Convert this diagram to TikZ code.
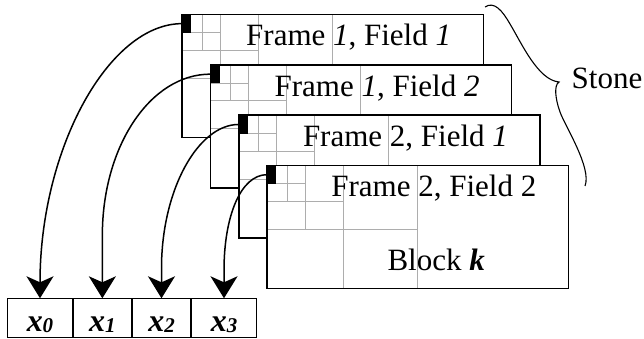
\documentclass[tikz,border=0pt]{standalone}
\usepackage{fontspec}
\setmainfont{Liberation Serif}
\usetikzlibrary{arrows.meta,calc}
% One field of the stone: white frame, quadtree grid, leading block, caption
\newcommand\stoneframe[5]{%
  \begin{scope}[shift={(#2,#3)}]
    \fill[white] (0,0) rectangle (301.3,123);
    \draw[gridline] (20,0) -- (20,36);
    \draw[gridline] (38,0) -- (38,64);
    \draw[gridline] (76,0) -- (76,123);
    \draw[gridline] (150,0) -- (150,123);
    \draw[gridline] (0,18.3) -- (38,18.3);
    \draw[gridline] (0,36) -- (76,36);
    \draw[gridline] (0,64) -- (150,64);
    \node[blk] (#1) at (0,0) {};
    \draw[framebox] (0,0) rectangle (301.3,123);
    \node[ftext] (#4) at (64,31.4) {#5};
  \end{scope}}
\newcommand\xlab[1]{{\bfseries\itshape x}\raisebox{-1.5pt}{\fontsize{21}{21}\selectfont\bfseries\itshape #1}}
\begin{document}
\begin{tikzpicture}[x=1pt,y=-1pt,
  framebox/.style={draw=black,line width=1.5pt},
  gridline/.style={draw=black!32,line width=0.9pt},
  blk/.style={fill=black,draw=none,minimum width=9pt,minimum height=18.3pt,
    inner sep=0pt,anchor=north west},
  ftext/.style={anchor=base west,inner sep=0pt,font=\fontsize{31}{36}\selectfont},
  cell/.style={draw=black,line width=1pt,minimum height=38.4pt,inner sep=0pt,
    anchor=north west,text height=32.4pt,text depth=6pt,
    font=\fontsize{32}{36}\selectfont},
  link/.style={line width=1.5pt,
    -{Stealth[length=22pt,width=27pt,inset=6pt]}},
  brace/.style={line width=1.1pt},
]
\useasboundingbox[fill=white] (0,0) rectangle (644,339);

% the four fields, back to front
\stoneframe{b1}{182}{14.3}{t1}{Frame \textit{1}, Field \textit{1}}
\stoneframe{b2}{210.4}{64.8}{t2}{Frame \textit{1}, Field \textit{2}}
\stoneframe{b3}{238.8}{115.1}{t3}{Frame 2, Field \textit{1}}
\stoneframe{b4}{267.2}{165.3}{t4}{Frame 2, Field 2}
\node[ftext] (blockk) at (387.3,270) {Block \textbf{\textit{k}}};

% output vector
\node[cell,minimum width=64.4pt] (x0) at (7.3,298.3) {\xlab{0}};
\node[cell,minimum width=58.3pt] (x1) at (72.7,298.3) {\xlab{1}};
\node[cell,minimum width=58pt]   (x2) at (132,298.3) {\xlab{2}};
\node[cell,minimum width=64.4pt] (x3) at (191.3,298.3) {\xlab{3}};

% leading blocks mapped to the vector
\draw[link] (b1.west) .. controls +(-73,0) and +(0,-150) .. (x0.north);
\draw[link] (b2.west) .. controls +(-60,0) and +(0,-89) .. ($(x1.north)+(0,-63)$) -- (x1.north);
\draw[link] (b3.west) .. controls +(-41,0) and +(0,-78) .. ($(x2.north)+(0,-30)$) -- (x2.north);
\draw[link] (b4.west) .. controls +(-27,0) and +(0,-53) .. ($(x3.north)+(0,-28)$) -- (x3.north);

% brace grouping the fields
\coordinate (brtop) at (485,7);
\coordinate (brbot) at (585,186);
\draw[brace] (brtop) .. controls (494,1) and (502,10) .. (510,24)
  .. controls (522,44) and (538,80) .. (559,82)
  .. controls (554,85) and (555,98) .. (560,112)
  .. controls (565,126) and (592,168) .. (brbot);
\node[ftext] (stone) at (571.5,88.3) {Stone};
\end{tikzpicture}
\end{document}
